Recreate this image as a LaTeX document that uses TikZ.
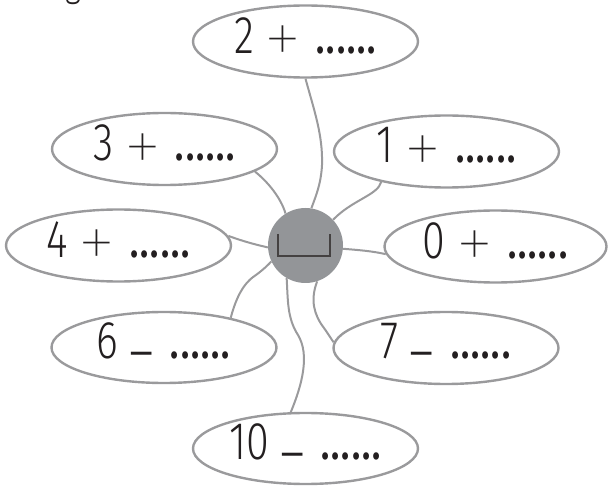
\documentclass[tikz,border=0pt]{standalone}
\usepackage{fontspec}
\setmainfont{Fira Sans}[UprightFont=* Light, BoldFont=* Medium, FakeStretch=0.78]
\newfontfamily\thinfont{Fira Sans}[UprightFont=* Thin]
\newfontfamily\dotfont{Fira Sans}[FakeStretch=0.8]
\usetikzlibrary{shapes.geometric}
\definecolor{linegray}{HTML}{9A9A9C}
\definecolor{discgray}{HTML}{939598}
\definecolor{ink}{HTML}{231F20}
\newcommand\myplus{\hspace{10pt}\raisebox{-12.5pt}{\thinfont\fontsize{80}{60}\selectfont +}\hspace{13pt}}
\newcommand\myminus{\hspace{11pt}\raisebox{-14pt}{\fontsize{60}{60}\selectfont –}\hspace{16pt}}
\newcommand\mydots{{\dotfont ......}}
\begin{document}
\begin{tikzpicture}[x=1pt,y=-1pt,
  bubble/.style={ellipse, draw=linegray, line width=2.4pt, inner sep=0pt,
    minimum width=225pt, minimum height=72pt, text=ink,
    font=\fontsize{53}{60}\selectfont},
  wire/.style={draw=linegray, line width=2pt},
  bracketline/.style={draw=ink!85, line width=1.5pt}]
\useasboundingbox (0,0) rectangle (608,486);

\node[anchor=base, text=ink, font=\fontsize{40}{48}\selectfont] (g) at (73,-3) {g};

\node[bubble] (e2) at (305.5,41.5) {2\myplus\mydots};
\node[bubble] (e3) at (164.5,149) {3\myplus\mydots};
\node[bubble] (e1) at (446.5,151.5) {1\myplus\mydots};
\node[bubble] (e4) at (118.5,245.5) {4\myplus\mydots};
\node[bubble, minimum width=222pt] (e0) at (495.5,246.5) {0\myplus\mydots};
\node[bubble, minimum height=71pt] (e6) at (164,347.5) {6\myminus\mydots};
\node[bubble] (e7) at (446,348) {7\myminus\mydots};
\node[bubble, minimum height=71pt] (e10) at (305.5,448.5) {10\myminus\mydots};

\node[circle, fill=discgray, minimum size=75pt, inner sep=0pt] (c) at (305.5,245.5) {};
\draw[bracketline] ([shift={(-27.5,-11.5)}]c.center) -- ([shift={(-27.5,10.5)}]c.center)
  -- ([shift={(24.5,10.5)}]c.center) -- ([shift={(24.5,-11.5)}]c.center);

\draw[wire] (e2.south) .. controls (314,110) and (323,135) .. (322,165)
  .. controls (321,185) and (315,198) .. (c.81);
\draw[wire] (e3.-14) .. controls (268,182) and (281,198) .. (c.122);
\draw[wire] (e1.-155) .. controls (378,195) and (352,200) .. (c.43);
\draw[wire] (e4.5) .. controls (248,243) and (258,245) .. (c.183);
\draw[wire] (c.-5) .. controls (358,250) and (372,251) .. (e0.184);
\draw[wire] (e6.24) .. controls (238,290) and (248,280) .. (256,275)
  .. controls (264,269) and (268,265) .. (c.205);
\draw[wire] (c.240) .. controls (288,300) and (287,318) .. (298,335)
  .. controls (310,355) and (302,385) .. (e10.112);
\draw[wire] (c.-72) .. controls (310,300) and (314,315) .. (324,328)
  .. controls (331,338) and (333,342) .. (e7.177);
\end{tikzpicture}
\end{document}
